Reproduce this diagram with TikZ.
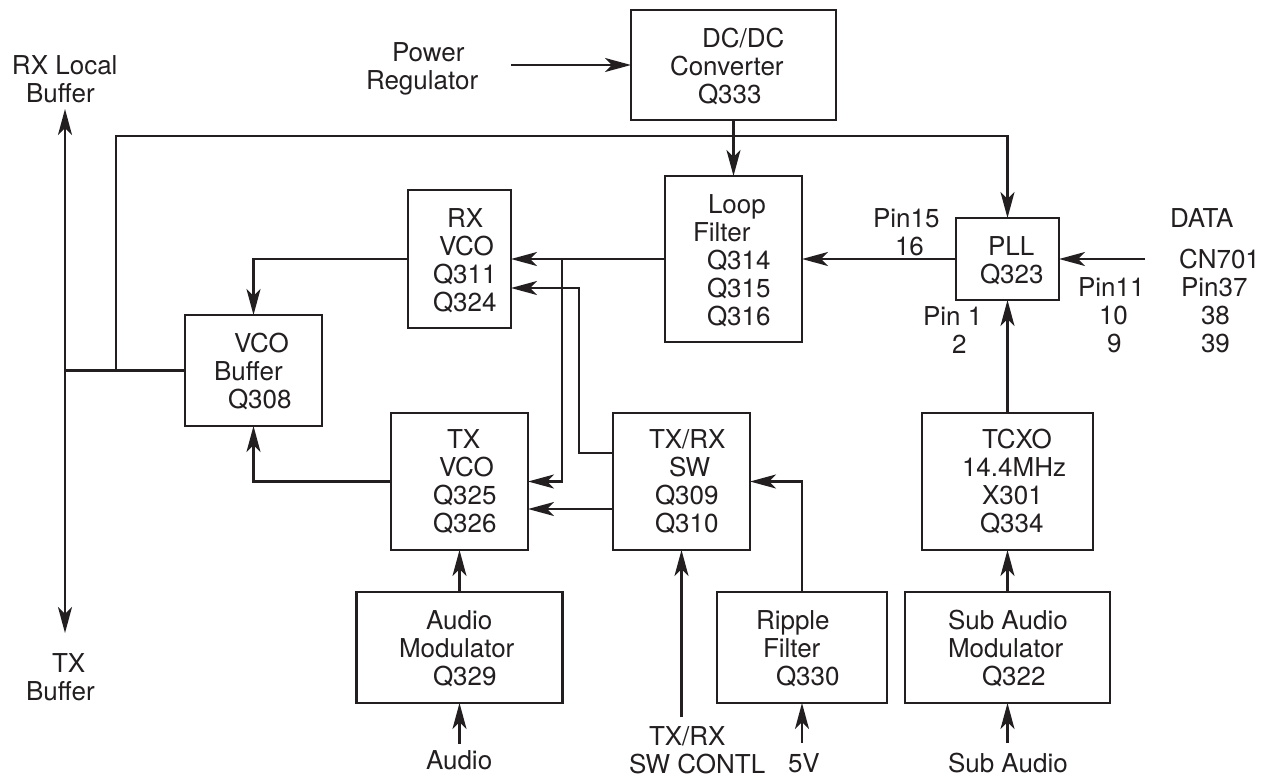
\documentclass[tikz,border=0pt]{standalone}
\usepackage{fontspec}
\setmainfont{TeX Gyre Heros}
\usetikzlibrary{arrows.meta}
\definecolor{ink}{RGB}{35,31,32}
\begin{document}
\begin{tikzpicture}[x=1pt,y=-1pt,
  blk/.style={draw=ink, line width=2.3pt, rectangle, inner sep=0pt, outer sep=0pt},
  lbl/.style={anchor=north west, inner sep=0pt, outer sep=0pt, align=left, text=ink, font=\fontsize{26}{28}\selectfont},
  wire/.style={draw=ink, line width=2.3pt},
  arr/.style={wire, -{Stealth[length=26pt,width=14pt,inset=7pt]}},
  darr/.style={wire, {Stealth[length=26pt,width=14pt,inset=7pt]}-{Stealth[length=26pt,width=14pt,inset=7pt]}}]
\useasboundingbox (0,0) rectangle (1267,780);

% boxes
\node[blk, minimum width=205pt, minimum height=110pt] (dcdc) at (733.5,65) {};
\node[blk, minimum width=137pt, minimum height=166pt] (loop) at (733.5,259) {};
\node[blk, minimum width=103pt, minimum height=138pt] (rxvco) at (459.5,259) {};
\node[blk, minimum width=137pt, minimum height=111pt] (vcobuf) at (253.5,370.5) {};
\node[blk, minimum width=103pt, minimum height=82pt] (pll) at (1007.5,259) {};
\node[blk, minimum width=137pt, minimum height=137pt] (txvco) at (459.5,481.5) {};
\node[blk, minimum width=137pt, minimum height=137pt] (sw) at (681.5,481.5) {};
\node[blk, minimum width=171pt, minimum height=137pt] (tcxo) at (1007.5,481.5) {};
\node[blk, minimum width=206pt, minimum height=111pt] (audiomod) at (459.5,647.5) {};
\node[blk, minimum width=170pt, minimum height=111pt] (ripple) at (802,647.5) {};
\node[blk, minimum width=205pt, minimum height=111pt] (subaud) at (1007.5,647.5) {};

% box texts
\node[lbl] (dcdct) at (670,28.3) {\hspace*{32pt}DC/DC\\Converter\\\hspace*{28pt}Q333};
\node[lbl] (loopt) at (693,194.3) {\hspace*{15pt}Loop\\Filter\\\hspace*{14pt}Q314\\\hspace*{14pt}Q315\\\hspace*{14pt}Q316};
\node[lbl] (rxvcot) at (433,208.3) {\hspace*{14pt}RX\\\hspace*{6pt}VCO\\Q311\\Q324};
\node[lbl] (vcobuft) at (214,333.3) {\hspace*{20pt}VCO\\Buffer\\\hspace*{14pt}Q308};
\node[lbl] (pllt) at (980,236.3) {\hspace*{8pt}PLL\\Q323};
\node[lbl] (txvcot) at (433,429.3) {\hspace*{14pt}TX\\\hspace*{6pt}VCO\\Q325\\Q326};
\node[lbl] (swt) at (649,429.3) {TX/RX\\\hspace*{20pt}SW\\\hspace*{6pt}Q309\\\hspace*{6pt}Q310};
\node[lbl] (tcxot) at (962,429.3) {\hspace*{20pt}TCXO\\14.4MHz\\\hspace*{20pt}X301\\\hspace*{18pt}Q334};
\node[lbl] (ripplet) at (756,610.3) {Ripple\\\hspace*{7pt}Filter\\\hspace*{20pt}Q330};
\node[lbl] (subaudt) at (948,610.3) {Sub Audio\\Modulator\\\hspace*{34pt}Q322};
\node[lbl] (audiomodt) at (399,610.3) {\hspace*{27pt}Audio\\Modulator\\\hspace*{34pt}Q329};

% outside labels
\node[lbl] (powert) at (366,42.3) {\hspace*{26pt}Power\\Regulator};
\node[lbl] (rxlocalt) at (12,55.3) {RX Local\\\hspace*{14pt}Buffer};
\node[lbl] (txbuft) at (26,653.3) {\hspace*{26pt}TX\\Buffer};
\node[lbl] (pin15t) at (873,208.3) {Pin15\\\hspace*{22pt}16};
\node[lbl] (datat) at (1170,208.3) {DATA};
\node[lbl] (cn701t) at (1179,249.3) {CN701\\\hspace*{2pt}Pin37\\\hspace*{22pt}38\\\hspace*{22pt}39};
\node[lbl] (pin11t) at (1078,277.3) {Pin11\\\hspace*{21pt}10\\\hspace*{29pt}9};
\node[lbl] (pin1t) at (923,306.3) {Pin 1\\\hspace*{29pt}2};
\node[lbl] (ctlt) at (629,726.3) {\hspace*{20pt}TX/RX\\SW CONTL};
\node[lbl] (fivevt) at (788,753.3) {5V};
\node[lbl] (subint) at (948,753.3) {Sub Audio};
\node[lbl] (audint) at (426,751) {Audio};

% connectors
\coordinate (prend) at (511,65);
\draw[arr] (prend) -- (dcdc.west);
\draw[arr] (dcdc.south) -- (loop.north);
\coordinate (j1) at (116,370.5);
\coordinate (tl) at (116,136);
\draw[arr] (j1) -- (tl) -| (pll.north);
\coordinate (bus) at (65,370.5);
\coordinate (rxtip) at (65,109);
\coordinate (txtip) at (65,633);
\draw[wire] (vcobuf.west) -- (bus);
\draw[darr] (rxtip) -- (txtip);
\draw[arr] (pll.west) -- (loop.east);
\coordinate (datain) at (1145,259);
\draw[arr] (datain) -- (pll.east);
\draw[arr] (tcxo.north) -- (pll.south);
\draw[arr] (subaud.north) -- (tcxo.south);
\coordinate (subin) at (1007.5,743);
\draw[arr] (subin) -- (subaud.south);
\draw[arr] (loop.west) -- (rxvco.east);
\coordinate (br) at (562,259);
\draw[arr] (br) |- (txvco.east);
\coordinate (swa) at (579,453);
\coordinate (swb) at (579,288);
\draw[arr] (sw.west |- swa) -- (swa) -- (swb) -- (rxvco.east |- swb);
\coordinate (swc) at (600,509);
\draw[arr] (sw.west |- swc) -- (txvco.east |- swc);
\draw[arr] (rxvco.west) -| (vcobuf.north);
\draw[arr] (txvco.west) -| (vcobuf.south);
\draw[arr] (audiomod.north) -- (txvco.south);
\coordinate (audin) at (459.5,744);
\draw[arr] (audin) -- (audiomod.south);
\coordinate (ctlin) at (681.5,717);
\draw[arr] (ctlin) -- (sw.south);
\draw[arr] (ripple.north) |- (sw.east);
\coordinate (vin) at (802,743);
\draw[arr] (vin) -- (ripple.south);
\end{tikzpicture}
\end{document}
